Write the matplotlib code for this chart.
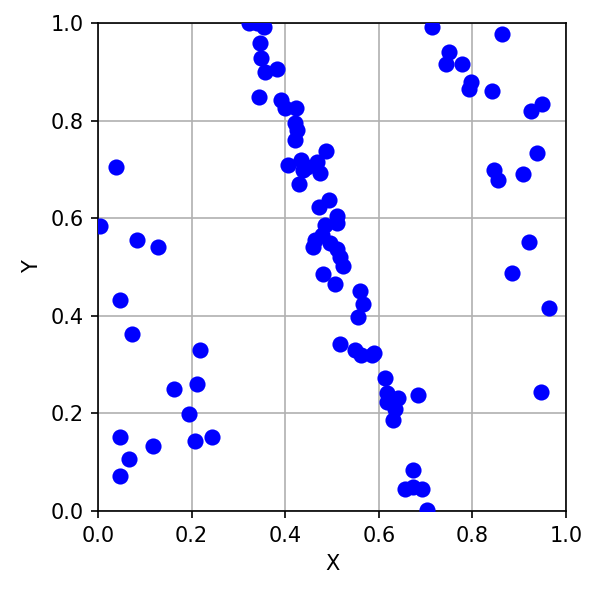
import matplotlib
matplotlib.use("Agg")
import matplotlib.pyplot as plt

x_vals = [
    0.004, 0.038, 0.084, 0.128,
    0.048, 0.073, 0.219, 0.162, 0.211, 0.194, 0.048, 0.208, 0.243, 0.118, 0.066, 0.048,
    0.322, 0.340, 0.355, 0.346, 0.348, 0.357, 0.382, 0.343, 0.392, 0.400, 0.423,
    0.420, 0.425, 0.421, 0.487, 0.434, 0.407, 0.467, 0.446, 0.474, 0.430, 0.437,
    0.494, 0.473, 0.510, 0.510, 0.485, 0.478, 0.464, 0.460, 0.496, 0.510, 0.517,
    0.524, 0.481, 0.506, 0.560, 0.567, 0.555, 0.517, 0.549, 0.563, 0.585, 0.590,
    0.613, 0.617, 0.640, 0.618, 0.635, 0.631, 0.684, 0.674, 0.656, 0.674, 0.692, 0.702,
    0.713, 0.863, 0.750, 0.744, 0.777, 0.796, 0.793, 0.841, 0.949, 0.925, 0.939,
    0.847, 0.854, 0.909, 0.920, 0.884, 0.964, 0.946,
]
y_vals = [
    0.585, 0.705, 0.555, 0.540,
    0.432, 0.363, 0.330, 0.250, 0.260, 0.199, 0.152, 0.143, 0.152, 0.134, 0.107, 0.072,
    1.000, 1.000, 0.992, 0.958, 0.928, 0.900, 0.905, 0.848, 0.842, 0.825, 0.826,
    0.795, 0.780, 0.760, 0.738, 0.720, 0.708, 0.716, 0.705, 0.692, 0.671, 0.699,
    0.637, 0.622, 0.605, 0.590, 0.586, 0.566, 0.555, 0.540, 0.549, 0.536, 0.521,
    0.502, 0.486, 0.465, 0.451, 0.424, 0.398, 0.342, 0.330, 0.320, 0.320, 0.323,
    0.272, 0.241, 0.231, 0.224, 0.210, 0.186, 0.238, 0.083, 0.045, 0.049, 0.046, 0.003,
    0.991, 0.977, 0.941, 0.917, 0.917, 0.880, 0.864, 0.861, 0.835, 0.820, 0.733,
    0.699, 0.678, 0.690, 0.551, 0.487, 0.417, 0.243,
]

fig = plt.figure(figsize=(598 / 150, 598 / 150), dpi=150)
ax = fig.add_axes([98 / 598, 87 / 598, 468 / 598, 488 / 598])
ax.scatter(x_vals, y_vals, s=60, color="blue", zorder=3, linewidths=0)
ax.set_xlim(0, 1)
ax.set_ylim(0, 1)
ax.set_xlabel("X")
ax.set_ylabel("Y")
ax.grid(True, color="#b0b0b0", linewidth=0.8, zorder=0)
ax.set_axisbelow(True)
fig.savefig("out.png", dpi=150)
